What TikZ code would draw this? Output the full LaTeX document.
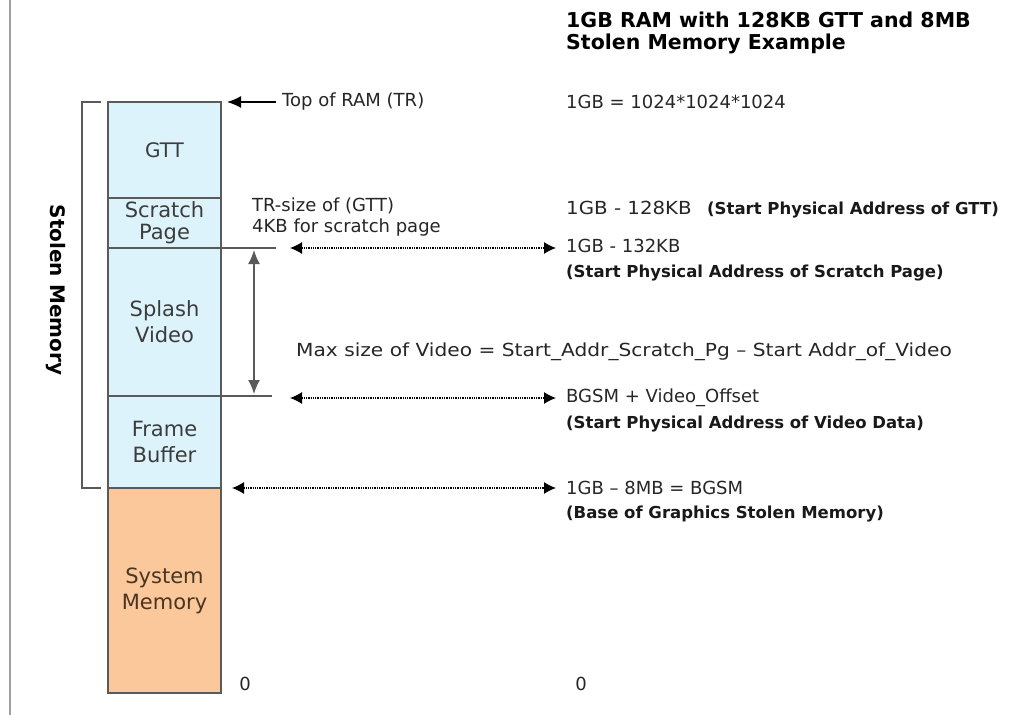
\documentclass[tikz,border=0pt]{standalone}
\usepackage{fontspec}
\setmainfont{DejaVu Sans}
\usetikzlibrary{arrows.meta}
\definecolor{stolenfill}{HTML}{DDF3FB}
\definecolor{sysfill}{HTML}{FAC89A}
\definecolor{frameline}{HTML}{5A5A5A}
\definecolor{labeltext}{HTML}{3C3C3C}
\definecolor{systext}{HTML}{4A3522}
\tikzset{
  membox/.style={draw=frameline, line width=1.6pt, minimum width=113pt, inner sep=0pt, outer sep=0pt,
    align=center, text=labeltext, font=\fontsize{21}{26}\selectfont},
  stolen/.style={membox, fill=stolenfill},
  sysmem/.style={membox, fill=sysfill, text=systext},
  note/.style={anchor=base west, inner sep=0pt, font=\fontsize{18}{20}\selectfont, text=black!85},
  boldnote/.style={anchor=base west, inner sep=0pt, font=\bfseries\fontsize{16.5}{18}\selectfont, text=black!90},
  dotarrow/.style={densely dotted, line width=1.3pt, {Latex[length=12pt,width=12pt]}-{Latex[length=12pt,width=12pt]}},
  tick/.style={frameline, line width=1.6pt},
}
\begin{document}
\begin{tikzpicture}[x=1pt,y=-1pt]
\useasboundingbox (0,0) rectangle (1010,715);
% page rule on the left
\draw[gray!75, line width=1.6pt] (10,0) -- (10,715);

% memory column
\node[stolen, minimum height=96pt, font=\fontsize{20}{24}\selectfont] (gtt) at (164.5,150) {GTT};
\node[stolen, minimum height=50pt, font=\fontsize{21}{22}\selectfont] (scratch) at (164.5,223) {Scratch\\Page};
\node[stolen, minimum height=148pt] (splash)  at (164.5,322) {Splash\\Video};
\node[stolen, minimum height=92pt]  (frame)   at (164.5,442) {Frame\\Buffer};
\node[sysmem, minimum height=205pt] (sys)     at (164.5,590.5) {System\\Memory};

% bracket for the stolen region
\coordinate (brtop) at (101,102);
\coordinate (brbot) at (101,488);
\draw[tick] (brtop) -- (82,102) -- (82,488) -- (brbot);
\node[rotate=-90, font=\bfseries\fontsize{20}{22}\selectfont] (stolenlbl) at (56,290) {Stolen Memory};

% top of RAM
\coordinate (trtail) at (276,102);
\coordinate (trhead) at (227,102);
\draw[line width=1.6pt, -{Latex[length=14pt,width=12pt]}] (trtail) -- (trhead);
\node[note, anchor=west] (trlbl) at (282,102) {Top of RAM (TR)};

% size of the splash video area
\coordinate (scrR) at (276,248);
\coordinate (vidR) at (272,396);
\coordinate (vtop) at (254,250);
\coordinate (vbot) at (254,394);
\draw[tick] (scratch.south east) -- (scratch.south east -| scrR);
\draw[tick] (splash.south east) -- (splash.south east -| vidR);
\draw[frameline, line width=1.6pt, {Latex[length=14pt,width=12pt]}-{Latex[length=14pt,width=12pt]}] (vtop) -- (vbot);

\node[note, align=left, anchor=north west] (trsize) at (252,198) {TR-size of (GTT)\\[1pt]4KB for scratch page};

% address notes
\node[note, anchor=west] (gb) at (566,102) {1GB = 1024*1024*1024};
\node[note] (gttaddr) at (566,214) {\scalebox{1.1}[1]{1GB - 128KB}};
\node[boldnote] (gtttxt) at (707,214) {(Start Physical Address of GTT)};
\node[note, anchor=west] (scraddr) at (566,246) {1GB - 132KB};
\node[boldnote] (scrtxt) at (566,277) {(Start Physical Address of Scratch Page)};
\node[note] (maxvid) at (296,356) {\scalebox{1.12}[1]{Max size of Video = Start\_Addr\_Scratch\_Pg – Start Addr\_of\_Video}};
\node[note, anchor=west] (vidaddr) at (566,398) {BGSM + Video\_Offset};
\node[boldnote] (vidtxt) at (566,428) {(Start Physical Address of Video Data)};
\node[note, anchor=west] (bgsm) at (566,488) {1GB – 8MB = BGSM};
\node[boldnote] (bgsmtxt) at (566,518) {(Base of Graphics Stolen Memory)};
\node[note, anchor=center] (zeroL) at (245,684) {0};
\node[note, anchor=center] (zeroR) at (581,684) {0};

% dotted address arrows
\coordinate (a1) at (290,248);
\coordinate (a2) at (290,398);
\coordinate (a3) at (232,488);
\coordinate (b1) at (556,248);
\coordinate (b2) at (556,398);
\coordinate (b3) at (556,488);
\draw[dotarrow] (a1) -- (b1);
\draw[dotarrow] (a2) -- (b2);
\draw[dotarrow] (a3) -- (b3);

% heading
\node[anchor=north west, align=left, inner sep=0pt, font=\bfseries\fontsize{20.5}{22}\selectfont] (title) at (566,12)
  {1GB RAM with 128KB GTT and 8MB\\Stolen Memory Example};
\end{tikzpicture}
\end{document}
